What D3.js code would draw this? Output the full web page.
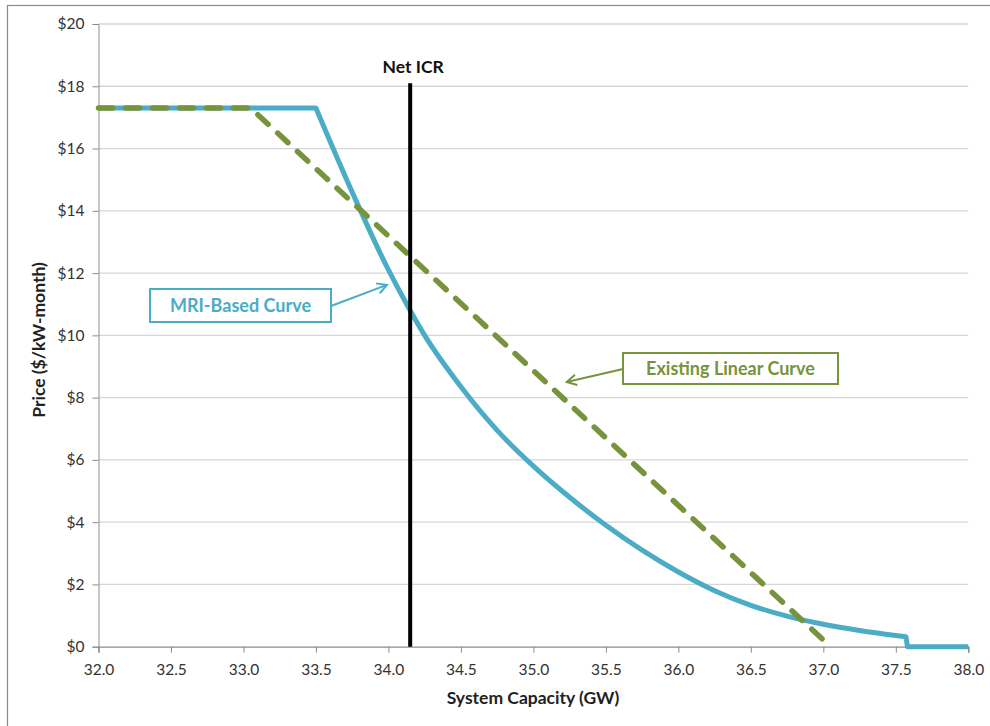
<!DOCTYPE html>
<html>
<head>
<meta charset="utf-8">
<script src="https://cdn.jsdelivr.net/npm/d3@7"></script>
<style>
  html, body { margin: 0; padding: 0; background: #fff; }
  svg { display: block; }
  text { font-family: Lato, "Open Sans", "Noto Sans", sans-serif; }
</style>
</head>
<body>
<svg id="chart" width="990" height="726"></svg>
<script>
// ---- data ----
const xTicks = [32.0, 32.5, 33.0, 33.5, 34.0, 34.5, 35.0, 35.5, 36.0, 36.5, 37.0, 37.5, 38.0];
const yTicks = [0, 2, 4, 6, 8, 10, 12, 14, 16, 18, 20];

// MRI-based curve: flat cap, convex curve, then drop to zero
const mriCap = [[32.0, 17.3], [33.5, 17.3]];
const mriCurve = [
  [33.5, 17.3], [33.75, 14.6], [34.0, 12.1], [34.15, 10.8], [34.25, 10.0],
  [34.5, 8.35], [34.75, 6.95], [35.0, 5.8], [35.25, 4.8], [35.5, 3.9],
  [35.75, 3.1], [36.0, 2.4], [36.25, 1.8], [36.5, 1.33], [36.75, 0.98],
  [37.0, 0.72], [37.25, 0.52], [37.5, 0.36], [37.57, 0.32]
];
const mriTail = [[37.57, 0.32], [37.58, 0], [38.0, 0]];

// Existing linear curve
const linearCurve = [[32.0, 17.3], [33.05, 17.3], [37.05, 0]];

// Net ICR marker
const netIcrX = 34.15;
const netIcrTop = 18.1;

// annotation arrow tips (data coords)
const mriArrowTip = [33.99, 11.62];
const linArrowTip = [35.23, 8.5];

// ---- layout ----
const svg = d3.select("#chart");
const margin = { left: 98.5, right: 968.3, top: 24, bottom: 646.7 };
const x = d3.scaleLinear().domain([32, 38]).range([margin.left, margin.right]);
const y = d3.scaleLinear().domain([0, 20]).range([margin.bottom, margin.top]);

const axisGray = "#8c8c8c";
const gridGray = "#d6d6d6";
const blue = "#4bacc6";
const green = "#77933c";
const tickFont = "Lato, 'Open Sans', sans-serif";

// outer border
svg.append("rect").attr("x", 7.5).attr("y", 5.5).attr("width", 1000).attr("height", 1000)
  .attr("fill", "none").attr("stroke", "#8a8a8a").attr("stroke-width", 1.2);

// gridlines
svg.append("g").selectAll("line").data(yTicks.filter(d => d > 0)).join("line")
  .attr("x1", margin.left).attr("x2", margin.right)
  .attr("y1", d => y(d)).attr("y2", d => y(d))
  .attr("stroke", gridGray).attr("stroke-width", 1.3);

// y axis
const yAxis = d3.axisLeft(y).tickValues(yTicks).tickSize(6).tickPadding(8)
  .tickFormat(d => "$" + d);
const gy = svg.append("g").attr("transform", `translate(${margin.left},0)`).call(yAxis);
gy.select(".domain").attr("stroke", axisGray);
gy.selectAll(".tick line").attr("stroke", axisGray);
gy.selectAll(".tick text").attr("font-size", 15.5).attr("fill", "#333")
  .attr("font-family", tickFont);

// x axis
const xAxis = d3.axisBottom(x).tickValues(xTicks).tickSize(6).tickPadding(11)
  .tickFormat(d3.format(".1f"));
const gx = svg.append("g").attr("transform", `translate(0,${margin.bottom})`).call(xAxis);
gx.select(".domain").attr("stroke", axisGray).attr("stroke-width", 1.3);
gx.selectAll(".tick line").attr("stroke", axisGray);
gx.selectAll(".tick text").attr("font-size", 15.5).attr("fill", "#333")
  .attr("font-family", tickFont);

// axis titles
svg.append("text").attr("x", 533).attr("y", 704).attr("text-anchor", "middle")
  .attr("font-size", 17.5).attr("font-weight", "bold").attr("fill", "#222")
  .text("System Capacity (GW)");
svg.append("text").attr("transform", "translate(45,340) rotate(-90)").attr("text-anchor", "middle")
  .attr("font-size", 17.5).attr("font-weight", "bold").attr("fill", "#222")
  .text("Price ($/kW-month)");

// lines
const lin = d3.line().x(d => x(d[0])).y(d => y(d[1]));
const mono = d3.line().x(d => x(d[0])).y(d => y(d[1])).curve(d3.curveMonotoneX);

const bluePath = lin(mriCap) + "L" + mono(mriCurve).slice(1) + "L" + lin(mriTail).slice(1);
svg.append("path").attr("d", bluePath).attr("fill", "none")
  .attr("stroke", blue).attr("stroke-width", 5).attr("stroke-linejoin", "round");

svg.append("path").attr("d", lin(linearCurve)).attr("fill", "none")
  .attr("stroke", green).attr("stroke-width", 5.5)
  .attr("stroke-dasharray", "14,13").attr("stroke-linecap", "round");

// Net ICR
svg.append("line").attr("x1", x(netIcrX)).attr("x2", x(netIcrX))
  .attr("y1", y(netIcrTop)).attr("y2", y(0))
  .attr("stroke", "#000").attr("stroke-width", 4);
svg.append("text").attr("x", x(netIcrX) + 3).attr("y", 73).attr("text-anchor", "middle")
  .attr("font-size", 17.5).attr("font-weight", "bold").attr("fill", "#111").text("Net ICR");

// annotations
function arrow(x1, y1, x2, y2, color) {
  svg.append("line").attr("x1", x1).attr("y1", y1).attr("x2", x2).attr("y2", y2)
    .attr("stroke", color).attr("stroke-width", 2);
  const ang = Math.atan2(y2 - y1, x2 - x1);
  const L = 11, a = 0.5;
  const p1 = [x2 - L * Math.cos(ang - a), y2 - L * Math.sin(ang - a)];
  const p2 = [x2 - L * Math.cos(ang + a), y2 - L * Math.sin(ang + a)];
  svg.append("path").attr("d", `M${p1}L${x2},${y2}L${p2}`).attr("fill", "none")
    .attr("stroke", color).attr("stroke-width", 2).attr("stroke-linejoin", "miter");
}

// MRI box
arrow(331, 306, x(mriArrowTip[0]), y(mriArrowTip[1]), blue);
svg.append("rect").attr("x", 150).attr("y", 289).attr("width", 181).attr("height", 33)
  .attr("fill", "#fff").attr("stroke", blue).attr("stroke-width", 2);
svg.append("text").attr("x", 240.5).attr("y", 312).attr("text-anchor", "middle")
  .attr("font-size", 18).attr("font-weight", "bold").attr("fill", blue).text("MRI-Based Curve");

// Existing box
arrow(623, 369, x(linArrowTip[0]), y(linArrowTip[1]), green);
svg.append("rect").attr("x", 623).attr("y", 353).attr("width", 215).attr("height", 31)
  .attr("fill", "#fff").attr("stroke", green).attr("stroke-width", 2);
svg.append("text").attr("x", 730.5).attr("y", 375).attr("text-anchor", "middle")
  .attr("font-size", 18).attr("font-weight", "bold").attr("fill", green).text("Existing Linear Curve");
</script>
</body>
</html>
